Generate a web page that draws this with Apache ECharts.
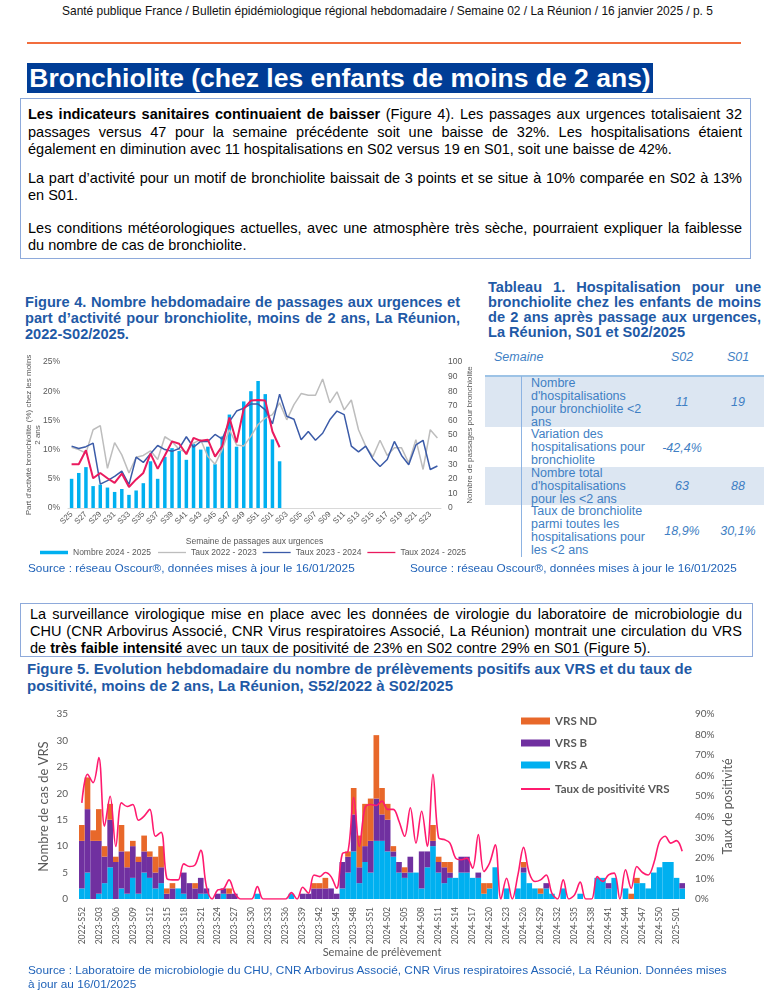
<!DOCTYPE html>
<html><head><meta charset="utf-8">
<script src="https://cdn.jsdelivr.net/npm/echarts/dist/echarts.min.js"></script>
<style>
body{margin:0;width:775px;height:1000px;position:relative;background:#fff;font-family:"Liberation Sans",Arial,sans-serif;overflow:hidden}
.a{position:absolute;white-space:nowrap}
.j{position:absolute;text-align:justify;text-align-last:justify}
.body{font-size:14.5px;line-height:17px;color:#000}
.ttl{font-weight:bold;font-size:14.6px;line-height:16px;color:#1f5aa6}
.src{font-size:11.8px;line-height:14px;color:#1f62b8}
.t{position:absolute;font-size:12.5px;line-height:13px;color:#3f7fc4;white-space:nowrap}
.it{font-style:italic}
.c{text-align:center}
</style></head><body>

<div class="a" style="left:0;width:775px;top:3px;text-align:center;font-size:13px;line-height:15px;color:#111;transform:scaleX(0.918);transform-origin:387px 0">Santé publique France / Bulletin épidémiologique régional hebdomadaire / Semaine 02 / La Réunion / 16 janvier 2025 / p. 5</div>
<div class="a" style="left:27px;top:42px;width:714px;height:2px;background:#f26d3d"></div>
<div class="a" style="left:27px;top:63px;width:626px;height:30px;background:#003d96;color:#fff;font-weight:bold;font-size:26.5px;line-height:30px;text-align:center">Bronchiolite (chez les enfants de moins de 2 ans)</div>

<div class="a" style="left:20px;top:98px;width:731px;height:161px;box-sizing:border-box;border:1.5px solid #8eaadb"></div>
<div class="j body" style="left:28px;width:714px;top:106px"><b>Les indicateurs sanitaires continuaient de baisser</b> (Figure 4). Les passages aux urgences totalisaient 32</div>
<div class="j body" style="left:28px;width:714px;top:124px">passages versus 47 pour la semaine précédente soit une baisse de 32%. Les hospitalisations étaient</div>
<div class="a body" style="left:28px;top:141px">également en diminution avec 11 hospitalisations en S02 versus 19 en S01, soit une baisse de 42%.</div>
<div class="j body" style="left:28px;width:714px;top:170px">La part d’activité pour un motif de bronchiolite baissait de 3 points et se situe à 10% comparée en S02 à 13%</div>
<div class="a body" style="left:28px;top:187px">en S01.</div>
<div class="j body" style="left:28px;width:714px;top:220px">Les conditions météorologiques actuelles, avec une atmosphère très sèche, pourraient expliquer la faiblesse</div>
<div class="a body" style="left:28px;top:237px">du nombre de cas de bronchiolite.</div>

<div class="j ttl" style="left:25px;width:435px;top:294px">Figure 4. Nombre hebdomadaire de passages aux urgences et</div>
<div class="j ttl" style="left:25px;width:435px;top:310px">part d’activité pour bronchiolite, moins de 2 ans, La Réunion,</div>
<div class="a ttl" style="left:25px;top:326px">2022-S02/2025.</div>

<div class="j ttl" style="left:488px;width:273px;top:280px;line-height:15px">Tableau 1. Hospitalisation pour une</div>
<div class="j ttl" style="left:488px;width:273px;top:295px;line-height:15px">bronchiolite chez les enfants de moins</div>
<div class="j ttl" style="left:488px;width:273px;top:310px;line-height:15px">de 2 ans après passage aux urgences,</div>
<div class="a ttl" style="left:488px;top:325px;line-height:15px">La Réunion, S01 et S02/2025</div>

<div class="t it" style="left:494px;top:351px">Semaine</div>
<div class="t it c" style="left:657px;width:50px;top:351px">S02</div>
<div class="t it c" style="left:713px;width:50px;top:351px">S01</div>
<div class="a" style="left:485px;top:375px;width:279px;height:1.5px;background:#9dc3e6"></div>
<div class="a" style="left:485px;top:376.5px;width:279px;height:50.5px;background:#dce6f2"></div>
<div class="a" style="left:485px;top:467px;width:279px;height:38px;background:#dce6f2"></div>
<div class="a" style="left:521px;top:376px;width:1.3px;height:181px;background:#8db3e2"></div>
<div class="t" style="left:531px;top:376.5px">Nombre<br>d'hospitalisations<br>pour bronchiolite &lt;2<br>ans</div>
<div class="t it c" style="left:657px;width:50px;top:396px">11</div>
<div class="t it c" style="left:713px;width:50px;top:396px">19</div>
<div class="t" style="left:531px;top:427.5px">Variation des<br>hospitalisations pour<br>bronchiolite</div>
<div class="t it c" style="left:652px;width:60px;top:441.5px">-42,4%</div>
<div class="t" style="left:531px;top:466.5px">Nombre total<br>d'hospitalisations<br>pour les &lt;2 ans</div>
<div class="t it c" style="left:657px;width:50px;top:479.5px">63</div>
<div class="t it c" style="left:713px;width:50px;top:479.5px">88</div>
<div class="t" style="left:531px;top:504.5px">Taux de bronchiolite<br>parmi toutes les<br>hospitalisations pour<br>les &lt;2 ans</div>
<div class="t it c" style="left:652px;width:60px;top:524.5px">18,9%</div>
<div class="t it c" style="left:708px;width:60px;top:524.5px">30,1%</div>

<div id="fig4" class="a" style="left:0;top:350px;width:485px;height:215px"></div>
<div class="a src" style="left:28px;top:561px">Source : réseau Oscour®, données mises à jour le 16/01/2025</div>
<div class="a src" style="left:410px;top:561px">Source : réseau Oscour®, données mises à jour le 16/01/2025</div>

<div class="a" style="left:20px;top:603px;width:733px;height:54px;box-sizing:border-box;border:1.5px solid #8eaadb"></div>
<div class="j body" style="left:30px;width:712px;top:605.5px">La surveillance virologique mise en place avec les données de virologie du laboratoire de microbiologie du</div>
<div class="j body" style="left:30px;width:712px;top:622.5px">CHU (CNR Arbovirus Associé, CNR Virus respiratoires Associé, La Réunion) montrait une circulation du VRS</div>
<div class="a body" style="left:30px;top:639.5px">de <b>très faible intensité</b> avec un taux de positivité de 23% en S02 contre 29% en S01 (Figure 5).</div>

<div class="a ttl" style="left:27px;top:659.5px;line-height:17px;font-size:15px">Figure 5. Evolution hebdomadaire du nombre de prélèvements positifs aux VRS et du taux de</div>
<div class="a ttl" style="left:27px;top:676.5px;line-height:17px;font-size:15px">positivité, moins de 2 ans, La Réunion, S52/2022 à S02/2025</div>

<div id="fig5" class="a" style="left:0;top:700px;width:775px;height:262px"></div>
<div class="a" style="left:282px;width:200px;top:945px;text-align:center;font-family:Lato,sans-serif;font-size:11px;line-height:14px;color:#595959">Semaine de prélèvement</div>
<div class="a src" style="left:28px;top:963px">Source : Laboratoire de microbiologie du CHU, CNR Arbovirus Associé, CNR Virus respiratoires Associé, La Réunion. Données mises</div>
<div class="a src" style="left:28px;top:977px">à jour au 16/01/2025</div>

<script>
// ---------- Figure 4 data ----------
var weeks4 = ['S25','S26','S27','S28','S29','S30','S31','S32','S33','S34','S35','S36','S37','S38','S39','S40','S41','S42','S43','S44','S45','S46','S47','S48','S49','S50','S51','S52','S01','S02','S03','S04','S05','S06','S07','S08','S09','S10','S11','S12','S13','S14','S15','S16','S17','S18','S19','S20','S21','S22','S23','S24'];
var nombre2425 = [20,24,28,15,16,14,11,13,9,12,17,32,20,35,41,39,33,44,40,42,30,49,64,42,73,80,87,78,47,32];
var taux2223 = [10.4,10.0,9.4,13.4,14.1,6.8,11.2,9.1,6.0,8.7,9.0,9.8,8.3,12.2,11.4,10.0,9.6,11.1,11.7,8.8,7.5,10.0,13.4,10.8,10.6,12.3,14.3,15.4,16.0,18.0,15.1,17.7,19.6,19.3,19.3,22.1,18.0,19.9,16.8,18.5,13.4,10.6,8.8,11.6,9.0,10.3,10.3,7.7,11.7,6.6,13.4,12.0];
var taux2324 = [10.6,10.2,10.5,11.1,4.1,4.7,5.4,6.3,4.0,8.7,7.8,9.3,10.7,10.0,9.7,10.2,12.2,10.4,11.4,11.4,12.6,11.8,14.8,16.6,17.1,17.8,17.8,16.8,14.4,19.5,15.7,15.2,11.7,13.1,11.6,12.8,15.1,16.6,16.0,10.6,9.6,10.6,8.4,7.1,8.3,11.4,9.0,7.4,10.8,11.6,6.6,7.2];
var taux2425 = [7.5,7.5,9.9,5.1,6.0,5.1,4.3,5.9,3.6,4.9,6.0,9.3,6.7,9.0,11.4,11.0,9.2,12.0,11.5,11.7,8.8,10.6,15.5,11.2,17.0,18.4,18.5,18.4,13.1,10.4];

// ---------- Figure 5 data ----------
var weeks5 = ['2022-S52',
'2023-S01','2023-S02','2023-S03','2023-S04','2023-S05','2023-S06','2023-S07','2023-S08','2023-S09','2023-S10','2023-S11','2023-S12','2023-S13','2023-S14','2023-S15','2023-S16','2023-S17','2023-S18','2023-S19','2023-S20','2023-S21','2023-S22','2023-S23','2023-S24','2023-S25','2023-S26','2023-S27','2023-S28','2023-S29','2023-S30','2023-S31','2023-S32','2023-S33','2023-S34','2023-S35','2023-S36','2023-S37','2023-S38','2023-S39','2023-S40','2023-S41','2023-S42','2023-S43','2023-S44','2023-S45','2023-S46','2023-S47','2023-S48','2023-S49','2023-S50','2023-S51','2023-S52',
'2024-S01','2024-S02','2024-S03','2024-S04','2024-S05','2024-S06','2024-S07','2024-S08','2024-S09','2024-S10','2024-S11','2024-S12','2024-S13','2024-S14','2024-S15','2024-S16','2024-S17','2024-S18','2024-S19','2024-S20','2024-S21','2024-S22','2024-S23','2024-S24','2024-S25','2024-S26','2024-S27','2024-S28','2024-S29','2024-S30','2024-S31','2024-S32','2024-S33','2024-S34','2024-S35','2024-S36','2024-S37','2024-S38','2024-S39','2024-S40','2024-S41','2024-S42','2024-S43','2024-S44','2024-S45','2024-S46','2024-S47','2024-S48','2024-S49','2024-S50','2024-S51','2024-S52',
'2025-S01','2025-S02'];
var vrsA = [2,5,0,1,3,6,0,2,1,4,1,5,4,2,3,0,0,2,1,0,0,1,1,0,0,1,0,0,0,0,0,1,0,0,0,0,0,1,0,0,0,0,0,0,0,0,2,5,9,3,7,5,11,11,9,8,5,4,5,5,2,6,10,5,3,4,4,5,5,4,4,1,2,6,0,2,0,2,5,3,2,1,2,1,0,2,0,0,1,0,0,4,4,2,4,0,2,0,3,3,2,5,6,7,7,4,2];
var vrsB = [9,12,11,10,5,9,7,7,5,6,6,4,4,3,3,1,2,0,4,3,2,3,1,0,1,1,1,1,0,0,0,0,0,0,0,0,0,0,0,1,1,2,2,2,2,1,5,3,7,3,3,6,8,5,6,1,2,1,3,0,7,3,1,2,3,1,0,3,3,0,1,0,0,0,0,0,0,0,1,0,0,0,1,0,0,0,0,0,0,0,0,0,0,1,0,0,0,0,0,0,0,0,0,0,0,0,1];
var vrsND = [3,6,2,6,2,3,1,5,3,1,1,3,1,3,4,1,1,0,0,0,1,0,0,0,0,0,1,0,0,0,0,0,0,0,0,0,0,0,0,0,0,1,1,2,0,0,0,1,5,6,8,8,12,5,3,1,0,1,0,0,0,0,3,1,1,2,0,0,0,0,0,2,1,0,0,0,0,0,1,0,0,1,0,0,0,0,0,0,0,0,0,0,0,0,0,0,0,1,1,0,0,0,0,0,0,0,0];
var positivite = [46.8,60.7,56.6,68.8,35.4,50.0,25.6,46.8,45.0,46.0,38.3,40.3,43.6,30.5,32.5,10.1,9.3,9.3,17.1,15.8,16.6,23.7,6.0,0,4.4,4.9,9.3,2.8,0,0,0,6.0,0,0,0,0,0,3.1,0,5.7,2.8,11.7,10.9,12.9,10.9,5.2,22.0,23.2,49.3,25.6,44.4,46.0,45.5,47.6,43.6,43.6,37.8,30.5,44.4,27.2,42.7,25.6,60.7,29.7,28.9,27.2,19.9,19.1,19.9,15.0,31.3,13.4,17.5,26.4,0,10.1,0,11.7,25.1,12.6,8.5,9.3,11.7,2.8,0,9.3,0,2.0,8.2,0,0,10.9,8.5,11.7,12.6,0,14.2,5.2,15.8,12.9,11.7,17.5,28.0,30.5,27.2,28.4,23.2];

var grey = '#595959';
var f4 = 'Liberation Sans';
var c4 = echarts.init(document.getElementById('fig4'), null, {renderer:'canvas'});
var leg4Text = {fontSize:8.5, color:grey, fontFamily:f4};
c4.setOption({
  animation:false,
  textStyle:{fontFamily:f4},
  grid:{left:68, top:12, width:373, height:146},
  legend:[
    {top:198, left:40, padding:0, itemWidth:28, itemHeight:3.5, textStyle:leg4Text,
     data:[{name:'Nombre 2024 - 2025', icon:'rect'}]},
    {top:198, left:158, padding:0, itemGap:6, itemWidth:28, itemHeight:1.3, textStyle:leg4Text,
     data:[{name:'Taux 2022 - 2023', icon:'rect'},{name:'Taux 2023 - 2024', icon:'rect'},{name:'Taux 2024 - 2025', icon:'rect'}]}
  ],
  xAxis:{type:'category', data:weeks4, boundaryGap:true,
    axisTick:{show:false}, axisLine:{lineStyle:{color:'#d9d9d9'}},
    axisLabel:{interval:1, rotate:45, fontSize:8, color:grey, margin:5, fontFamily:f4},
    name:'Semaine de passages aux urgences', nameLocation:'middle', nameGap:29, nameMoveOverlap:false,
    nameTextStyle:{fontSize:8.5, color:grey, fontFamily:f4}},
  yAxis:[
    {type:'value', min:0, max:25, interval:5, splitLine:{show:false}, axisLine:{show:false}, axisTick:{show:false},
     axisLabel:{formatter:'{value}%', fontSize:8.5, color:grey, margin:8, fontFamily:f4},
     name:"Part d'activité bronchiolite (%) chez les moins\n2 ans", nameLocation:'middle', nameRotate:90, nameGap:26, nameMoveOverlap:false,
     nameTextStyle:{fontSize:8, color:grey, lineHeight:9, fontFamily:f4}},
    {type:'value', min:0, max:100, interval:10, splitLine:{show:false}, axisLine:{show:false}, axisTick:{show:false},
     axisLabel:{fontSize:8.5, color:grey, margin:7, fontFamily:f4},
     name:'Nombre de passages pour bronchiolite', nameLocation:'middle', nameRotate:90, nameGap:25, nameMoveOverlap:false,
     nameTextStyle:{fontSize:8, color:grey, fontFamily:f4}}
  ],
  series:[
    {name:'Nombre 2024 - 2025', type:'bar', yAxisIndex:1, data:nombre2425, barWidth:3.5, itemStyle:{color:'#00b0f0'}},
    {name:'Taux 2022 - 2023', type:'line', data:taux2223, symbol:'none', lineStyle:{width:1.5, color:'#bdbdbd'}, itemStyle:{color:'#bdbdbd'}},
    {name:'Taux 2023 - 2024', type:'line', data:taux2324, symbol:'none', lineStyle:{width:1.5, color:'#3b5ba8'}, itemStyle:{color:'#3b5ba8'}},
    {name:'Taux 2024 - 2025', type:'line', data:taux2425, symbol:'none', lineStyle:{width:2, color:'#ea1a5e'}, itemStyle:{color:'#ea1a5e'}}
  ]
});

var f5 = 'Lato';
var c5 = echarts.init(document.getElementById('fig5'), null, {renderer:'canvas'});
var leg5Text = {fontSize:11.5, fontWeight:'bold', color:grey, fontFamily:f5};
c5.setOption({
  animation:false,
  textStyle:{fontFamily:f5},
  grid:{left:79, top:14, width:606, height:185},
  legend:[
    {orient:'vertical', left:521, top:15, padding:0, itemGap:10, itemWidth:29, itemHeight:7, textStyle:leg5Text,
     data:[{name:'VRS ND', icon:'rect'},{name:'VRS B', icon:'rect'},{name:'VRS A', icon:'rect'}]},
    {orient:'vertical', left:521, top:83, padding:0, itemWidth:29, itemHeight:2, textStyle:leg5Text,
     data:[{name:'Taux de positivité VRS', icon:'rect'}]}
  ],
  xAxis:{type:'category', data:weeks5, boundaryGap:true,
    axisTick:{show:false}, axisLine:{show:false},
    axisLabel:{interval:2, rotate:90, fontSize:8.5, color:grey, margin:8, fontFamily:f5}},
  yAxis:[
    {type:'value', min:0, max:35, interval:5, splitLine:{show:false}, axisLine:{show:false}, axisTick:{show:false},
     axisLabel:{fontSize:10, color:grey, margin:11, fontFamily:f5},
     name:'Nombre de cas de VRS', nameLocation:'middle', nameRotate:90, nameGap:29, nameMoveOverlap:false,
     nameTextStyle:{fontSize:13, color:grey, fontFamily:f5}},
    {type:'value', min:0, max:90, interval:10, splitLine:{show:false}, axisLine:{show:false}, axisTick:{show:false},
     axisLabel:{formatter:'{value}%', fontSize:10, color:grey, margin:10, fontFamily:f5},
     name:'Taux de positivité', nameLocation:'middle', nameRotate:90, nameGap:36, nameMoveOverlap:false,
     nameTextStyle:{fontSize:12.5, color:grey, fontFamily:f5}}
  ],
  series:[
    {name:'VRS A', type:'bar', stack:'vrs', data:vrsA, barCategoryGap:'0%', itemStyle:{color:'#00b0f0'}},
    {name:'VRS B', type:'bar', stack:'vrs', data:vrsB, barCategoryGap:'0%', itemStyle:{color:'#7030a0'}},
    {name:'VRS ND', type:'bar', stack:'vrs', data:vrsND, barCategoryGap:'0%', itemStyle:{color:'#e8682a'}},
    {name:'Taux de positivité VRS', type:'line', yAxisIndex:1, data:positivite, smooth:0.35, symbol:'none',
     lineStyle:{width:1.6, color:'#ff1a6e'}, itemStyle:{color:'#ff1a6e'}}
  ]
});
</script>
</body></html>
